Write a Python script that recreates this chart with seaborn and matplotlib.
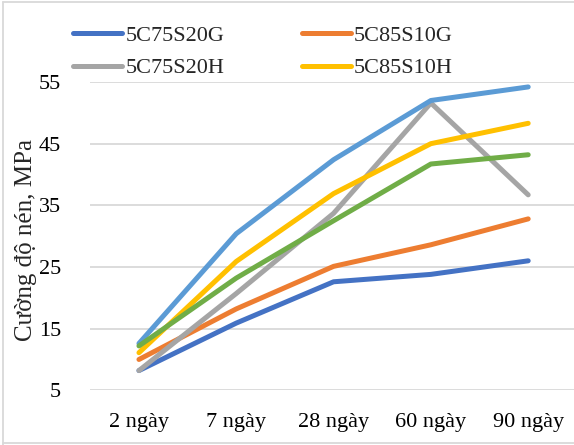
import matplotlib
matplotlib.use("Agg")
import matplotlib.pyplot as plt
import seaborn as sns
import pandas as pd
from matplotlib.lines import Line2D

categories = ["2 ngày", "7 ngày", "28 ngày", "60 ngày", "90 ngày"]
s_5C75S20G = [8.2, 15.9, 22.6, 23.8, 26.0]
s_5C85S10G = [10.0, 18.2, 25.1, 28.6, 32.8]
s_5C75S20H = [8.2, 20.7, 33.7, 51.6, 36.7]
s_5C85S10H = [11.1, 25.9, 36.9, 45.0, 48.3]
s_series5 = [12.6, 30.4, 42.4, 52.0, 54.2]
s_series6 = [12.2, 23.2, 32.5, 41.7, 43.2]

series_names = ["5C75S20G", "5C85S10G", "5C75S20H", "5C85S10H", "Series5", "Series6"]
series_values = [s_5C75S20G, s_5C85S10G, s_5C75S20H, s_5C85S10H, s_series5, s_series6]
in_legend = [True, True, True, True, False, False]
colors = ["#4472C4", "#ED7D31", "#A5A5A5", "#FFC000", "#5B9BD5", "#70AD47"]
y_ticks = [5, 15, 25, 35, 45, 55]
y_label = "Cường độ nén, MPa"

sns.set_theme(style="white")
plt.rcParams["font.family"] = ["Liberation Serif", "DejaVu Serif"]

fig = plt.figure(figsize=(5.74, 4.45), dpi=100)
W, H = 574, 445
ax = fig.add_axes([90.3 / W, (H - 390.3) / H, (574 - 90.3) / W, (390.3 - 82) / H])

for name, vals, col in zip(series_names, series_values, colors):
    df = pd.DataFrame({"x": range(len(categories)), "y": vals})
    sns.lineplot(data=df, x="x", y="y", ax=ax, color=col, linewidth=3.6,
                 solid_capstyle="round", solid_joinstyle="round", legend=False)

ax.set_xlim(-0.5, (574 - 139) / 97.3)
ax.set_ylim(5, 55)
ax.set_yticks(y_ticks)
ax.set_xticks(range(len(categories)))
ax.set_xticklabels(categories)
ax.yaxis.grid(True, color="#D9D9D9", linewidth=1.3)
ax.set_axisbelow(True)
for sp in ax.spines.values():
    sp.set_visible(False)
ax.tick_params(axis="both", length=0, labelsize=16, colors="black")
ax.tick_params(axis="y", pad=21)
ax.tick_params(axis="x", pad=16)
ax.set_xlabel("")
ax.set_ylabel(y_label, fontsize=18, labelpad=2)
ax.yaxis.set_label_coords(-0.111, 0.487)

handles = [Line2D([0], [0], color=c, linewidth=3.6, solid_capstyle="round")
           for c, f in zip(colors, in_legend) if f]
labels = [n for n, f in zip(series_names, in_legend) if f]
# row-wise ordering for a 2-column legend
order = [0, 2, 1, 3]
fig.legend([handles[i] for i in order], [labels[i] for i in order],
           loc="upper left", bbox_to_anchor=(53 / W, 1 - 5 / H),
           ncol=2, frameon=False, fontsize=16, handlelength=2.2, handletextpad=0.15,
           columnspacing=3.5, labelspacing=0.55)

# chart border (left, top, bottom)
fig.add_artist(Line2D([2.7 / W, 2.7 / W], [0.5 / H, 1 - 1.5 / H], transform=fig.transFigure,
                      color="#D9D9D9", linewidth=1.3))
fig.add_artist(Line2D([2.7 / W, 1], [1 - 1.5 / H, 1 - 1.5 / H], transform=fig.transFigure,
                      color="#D9D9D9", linewidth=1.3))
fig.add_artist(Line2D([2.7 / W, 1], [1.8 / H, 1.8 / H], transform=fig.transFigure,
                      color="#D9D9D9", linewidth=1.3))

fig.savefig("out.png", dpi=100)
